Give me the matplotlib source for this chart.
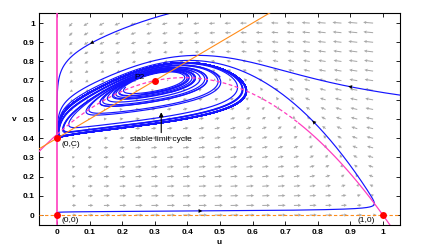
# Phase portrait: prey u, predator v, with the stable limit cycle around P2
import numpy as np
import matplotlib
matplotlib.use("Agg")
import matplotlib.pyplot as plt

plt.rcParams['font.family'] = ['Liberation Sans', 'DejaVu Sans']

# model values
K = 1.933      # u-nullcline v = K(1-u)(u+A)
A = 0.2172
C = 0.4        # v-nullcline v = u + C
delta = 0.1505

# equilibria and labels
eq_u = [0, 0, 0.3, 1]
eq_v = [0, 0.4, 0.7, 0]
eq_text = ['(0,0)', '(0,C)', 'P2', '(1,0)']
eq_text_u = [0.015, 0.015, 0.27, 0.975]
eq_text_v = [-0.03, 0.365, 0.715, -0.03]
eq_text_ha = ['left', 'left', 'right', 'right']

# trajectory starts, run lengths, and where their arrows sit
# (first eight spiral out from around P2 onto the cycle)
start_u = [0.21, 0.42, 0.26, 0.36, 0.50, 0.35, 0.44, 0.19, 1.052, 0.001, 0.345]
start_v = [0.665, 0.745, 0.63, 0.77, 0.72, 0.64, 0.77, 0.64, 0.625, 0.013, 1.05]
run_T = [1500, 800, 800, 800, 800, 800, 800, 800, 300, 300, 300]
arrow_u = [0.905, 0.42, 0.78, 0.125]
arrow_v = [0.646, 0.02, 0.48, 0.885]
arrow_traj = [8, 9, 9, 10]

ticks = [0, 0.1, 0.2, 0.3, 0.4, 0.5, 0.6, 0.7, 0.8, 0.9, 1]
tick_labels = ['0', '0.1', '0.2', '0.3', '0.4', '0.5', '0.6', '0.7', '0.8', '0.9', '1']


def rhs(u, v):
    du = u*(1-u) - u*v/(K*(u+A))
    dv = delta*v*(u + C - v)
    return du, dv


def integ(u, v, T, dt=0.05):
    us = [u]
    vs = [v]
    for i in range(int(T/dt)):
        k1 = rhs(u, v)
        k2 = rhs(u+dt/2*k1[0], v+dt/2*k1[1])
        k3 = rhs(u+dt/2*k2[0], v+dt/2*k2[1])
        k4 = rhs(u+dt*k3[0], v+dt*k3[1])
        u += dt/6*(k1[0]+2*k2[0]+2*k3[0]+k4[0])
        v += dt/6*(k1[1]+2*k2[1]+2*k3[1]+k4[1])
        us.append(u)
        vs.append(v)
    return np.array(us), np.array(vs)


fig = plt.figure(figsize=(4.24, 2.52), dpi=100)
ax = fig.add_axes([0.092, 0.107, 0.851, 0.841])
xlim = (-0.055, 1.052)
ylim = (-0.052, 1.052)
ax.set_xlim(xlim)
ax.set_ylim(ylim)

# pixels per data unit, used to keep the field arrows right in screen space
px_u = 0.851*424/(xlim[1]-xlim[0])
px_v = 0.841*252/(ylim[1]-ylim[0])

# direction field
gu, gv = np.meshgrid(np.linspace(0.047, 0.97, 20), np.arange(0, 1.001, 0.05))
du, dv = rhs(gu, gv)
pu = du*px_u
pv = dv*px_v
mag = np.hypot(pu, pv)
L = 10*(mag/mag.max())**0.4
qu = pu/mag*L/px_u
qv = pv/mag*L/px_v
ax.quiver(gu, gv, qu, qv, angles='xy', scale_units='xy', scale=1,
          color='#a8a8a8', width=0.0028, headwidth=3.2, headlength=3.2,
          headaxislength=2.8, zorder=1)

# trajectories
trajs = []
for su, sv, T in zip(start_u, start_v, run_T):
    tu, tv = integ(su, sv, T)
    trajs.append((tu, tv))
    ax.plot(tu, tv, color='#1414ff', lw=0.85, zorder=2)

for au, av, k in zip(arrow_u, arrow_v, arrow_traj):
    tu, tv = trajs[k]
    i = np.argmin((tu-au)**2 + (tv-av)**2)
    j = min(i+3, len(tu)-1)
    ax.annotate('', xy=(tu[j], tv[j]), xytext=(tu[i], tv[i]),
                arrowprops=dict(arrowstyle='-|>', color='k', lw=0,
                                mutation_scale=7), zorder=5)

# nullclines
uu = np.linspace(xlim[0], xlim[1], 400)
vn = K*(1-uu)*(uu+A)
pink = '#ff3ec0'
ax.plot(uu[uu <= 0.0], vn[uu <= 0.0], color=pink, lw=0.9, zorder=3)
ax.plot(uu[uu >= 0.74], vn[uu >= 0.74], color=pink, lw=0.9, zorder=3)
mid = (uu >= 0.0) & (uu <= 0.74)
ax.plot(uu[mid], vn[mid], color=pink, lw=0.9, ls=(0, (3, 2)), zorder=3)
ax.plot([0, 0], ylim, color=pink, lw=1.2, zorder=3)
orange = '#ff8c1a'
ax.plot(uu, uu + C, color=orange, lw=0.8, zorder=3)
ax.plot(xlim, [0, 0], color=orange, lw=0.8, ls=(0, (3, 2)), zorder=3)

# equilibria
ax.plot(eq_u, eq_v, 'o', color='#ff0000', ms=5, mec='none', zorder=6)
for t, x, y, ha in zip(eq_text, eq_text_u, eq_text_v, eq_text_ha):
    ax.text(x, y, t, fontsize=6, ha=ha, va='center', zorder=7)

ax.annotate('', xy=(0.32, 0.55), xytext=(0.32, 0.415),
            arrowprops=dict(arrowstyle='-|>', color='k', lw=0.8,
                            mutation_scale=6), zorder=7)
ax.text(0.32, 0.395, 'stable limit cycle', fontsize=6, ha='center',
        va='center', zorder=7)

ax.set_xticks(ticks)
ax.set_xticklabels(tick_labels)
ax.set_yticks(ticks)
ax.set_yticklabels(tick_labels)
ax.tick_params(direction='in', length=3, width=0.6, top=True, right=True,
               labelsize=6, pad=3)
for lab in ax.get_xticklabels() + ax.get_yticklabels():
    lab.set_fontweight('bold')
for s in ax.spines.values():
    s.set_linewidth(0.8)
ax.set_xlabel('u', fontsize=6, fontweight='bold', labelpad=2)
ax.set_ylabel('v', fontsize=6, fontweight='bold', labelpad=6, rotation=0,
              va='center')

fig.savefig('out.png', dpi=100)
